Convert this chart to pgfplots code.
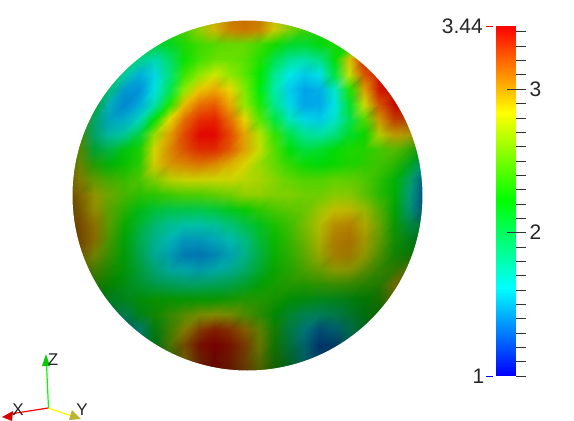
\documentclass[border=0pt]{standalone}
\usepackage{fontspec}
\setmainfont{Liberation Sans}
\usepackage{pgfplots}
\usepackage{pgfplotstable}
\pgfplotsset{compat=1.18}
% scalar on the visible disc, read row by row: 25 rows (y=15,30,...,375 px),
% 25 values each (x=65,80,...,425 px)
\pgfplotstableread[row sep=\\]{
v\\
2.35\\2.35\\2.35\\2.35\\2.35\\2.35\\2.35\\2.35\\2.45\\2.65\\2.9\\3.05\\3.1\\3.05\\2.85\\2.6\\2.4\\2.35\\2.35\\2.4\\2.4\\2.4\\2.4\\2.4\\2.4\\
2.35\\2.35\\2.35\\2.35\\2.35\\2.35\\2.35\\2.35\\2.45\\2.65\\2.9\\3.05\\3.1\\3.05\\2.85\\2.6\\2.4\\2.35\\2.35\\2.4\\2.4\\2.4\\2.4\\2.4\\2.4\\
2.25\\2.25\\2.25\\2.25\\2.25\\2.34\\2.06\\2.13\\2.3\\2.4\\2.45\\2.5\\2.5\\2.4\\2.27\\2.1\\2.08\\2.19\\2.3\\2.3\\2.3\\2.3\\2.3\\2.3\\2.3\\
2.23\\2.23\\2.23\\2.23\\2.23\\1.81\\1.73\\1.94\\2.25\\2.4\\2.5\\2.5\\2.45\\2.3\\2.0\\1.82\\1.76\\1.85\\2.2\\2.9\\3.35\\3.4\\3.4\\3.4\\3.4\\
2.3\\2.3\\2.3\\2.29\\1.73\\1.5\\1.59\\1.89\\2.38\\2.6\\2.75\\2.6\\2.45\\2.22\\1.84\\1.61\\1.53\\1.6\\2.05\\2.75\\3.2\\3.4\\3.4\\3.4\\3.4\\
2.6\\2.6\\2.6\\1.82\\1.45\\1.41\\1.61\\1.99\\2.6\\2.92\\3.0\\2.88\\2.55\\2.19\\1.78\\1.53\\1.42\\1.46\\1.7\\2.3\\3.0\\3.38\\3.42\\3.4\\3.4\\
2.6\\2.6\\2.07\\1.56\\1.4\\1.48\\1.75\\2.3\\2.95\\3.15\\3.2\\3.0\\2.6\\2.29\\1.85\\1.57\\1.43\\1.44\\1.6\\2.1\\2.78\\3.2\\3.42\\3.4\\3.4\\
2.7\\2.7\\1.84\\1.53\\1.52\\1.69\\2.2\\2.85\\3.15\\3.32\\3.35\\3.15\\2.88\\2.45\\2.05\\1.73\\1.57\\1.54\\1.68\\2.0\\2.45\\3.0\\3.25\\3.2\\3.2\\
2.5\\2.5\\1.83\\1.69\\1.77\\2.04\\2.65\\3.0\\3.25\\3.42\\3.42\\3.25\\3.0\\2.7\\2.35\\2.02\\1.83\\1.78\\1.88\\2.1\\2.25\\2.75\\2.95\\2.9\\2.9\\
2.6\\2.6\\2.03\\1.99\\2.17\\2.3\\2.82\\3.05\\3.22\\3.32\\3.32\\3.2\\3.0\\2.75\\2.45\\2.2\\2.05\\2.1\\2.2\\2.3\\2.32\\2.42\\2.5\\2.4\\2.1\\
2.7\\2.7\\2.35\\2.2\\2.25\\2.35\\2.85\\3.0\\3.05\\3.1\\3.05\\2.95\\2.85\\2.65\\2.5\\2.35\\2.25\\2.2\\2.25\\2.3\\2.35\\2.4\\2.35\\2.1\\1.7\\
2.85\\2.85\\2.6\\2.45\\2.4\\2.45\\2.6\\2.75\\2.8\\2.8\\2.8\\2.8\\2.75\\2.7\\2.6\\2.5\\2.45\\2.45\\2.5\\2.5\\2.45\\2.35\\2.2\\1.85\\1.4\\
2.95\\2.95\\2.8\\2.6\\2.45\\2.35\\2.35\\2.4\\2.45\\2.45\\2.5\\2.55\\2.65\\2.65\\2.6\\2.6\\2.55\\2.55\\2.62\\2.62\\2.5\\2.35\\2.2\\1.75\\1.35\\
3.0\\3.0\\2.85\\2.55\\2.35\\2.15\\2.05\\2.0\\2.0\\2.0\\2.05\\2.15\\2.25\\2.35\\2.45\\2.5\\2.55\\2.7\\2.85\\2.85\\2.72\\2.5\\2.2\\1.75\\1.4\\
3.05\\3.05\\2.95\\2.55\\2.25\\2.05\\1.85\\1.75\\1.7\\1.7\\1.75\\1.85\\2.0\\2.15\\2.3\\2.42\\2.6\\2.8\\2.97\\3.0\\2.85\\2.6\\2.25\\1.95\\1.9\\
3.05\\3.05\\2.95\\2.5\\2.2\\1.95\\1.75\\1.6\\1.5\\1.5\\1.55\\1.65\\1.8\\2.05\\2.25\\2.4\\2.58\\2.8\\3.0\\3.03\\2.87\\2.6\\2.3\\2.1\\2.1\\
2.95\\2.95\\2.75\\2.45\\2.2\\1.95\\1.7\\1.55\\1.42\\1.4\\1.45\\1.55\\1.75\\2.0\\2.25\\2.38\\2.55\\2.77\\2.97\\2.98\\2.8\\2.55\\2.3\\2.3\\2.5\\
2.7\\2.7\\2.55\\2.35\\2.2\\2.0\\1.8\\1.65\\1.6\\1.55\\1.6\\1.7\\1.85\\2.05\\2.25\\2.35\\2.5\\2.62\\2.78\\2.78\\2.62\\2.45\\2.45\\2.75\\2.9\\
2.4\\2.4\\2.4\\2.25\\2.15\\2.05\\1.95\\1.9\\1.85\\1.85\\1.9\\1.95\\2.05\\2.2\\2.3\\2.35\\2.35\\2.4\\2.45\\2.45\\2.4\\2.4\\2.85\\3.1\\3.1\\
2.1\\2.1\\2.1\\2.05\\2.1\\2.2\\2.25\\2.25\\2.25\\2.25\\2.25\\2.3\\2.35\\2.35\\2.3\\2.2\\2.15\\2.1\\2.1\\2.15\\2.2\\2.35\\2.8\\2.8\\2.8\\
1.85\\1.85\\1.85\\1.85\\1.85\\2.1\\2.3\\2.45\\2.6\\2.72\\2.78\\2.72\\2.55\\2.4\\2.2\\2.0\\1.85\\1.8\\1.85\\2.0\\2.15\\2.3\\2.3\\2.3\\2.3\\
1.6\\1.6\\1.6\\1.6\\1.5\\1.7\\2.15\\2.5\\2.85\\3.15\\3.3\\3.2\\3.0\\2.65\\2.3\\1.9\\1.6\\1.4\\1.5\\1.8\\2.05\\2.1\\2.1\\2.1\\2.1\\
1.5\\1.5\\1.5\\1.5\\1.5\\1.65\\2.1\\2.6\\3.05\\3.35\\3.44\\3.35\\3.15\\2.75\\2.3\\1.9\\1.55\\1.3\\1.35\\1.7\\1.9\\1.9\\1.9\\1.9\\1.9\\
1.6\\1.6\\1.6\\1.6\\1.6\\1.6\\2.05\\2.45\\2.9\\3.25\\3.4\\3.3\\3.1\\2.7\\2.35\\2.0\\1.6\\1.4\\1.5\\1.8\\1.8\\1.8\\1.8\\1.8\\1.8\\
1.6\\1.6\\1.6\\1.6\\1.6\\1.6\\2.05\\2.45\\2.9\\3.25\\3.4\\3.3\\3.1\\2.7\\2.35\\2.0\\1.6\\1.4\\1.5\\1.8\\1.8\\1.8\\1.8\\1.8\\1.8\\
}\sphere
% colour bar: rainbow nodes at the corners of the hue range
\pgfplotstableread[row sep=\\]{
x y v\\
0 1 1\\ 1 1 1\\
0 1.61 1.61\\ 1 1.61 1.61\\
0 2.22 2.22\\ 1 2.22 2.22\\
0 2.83 2.83\\ 1 2.83 2.83\\
0 3.44 3.44\\ 1 3.44 3.44\\
}\barcolors
% brightness of the lit sphere at table row #1
\pgfmathdeclarefunction{shade}{1}{%
  \begingroup
  \pgfmathsetmacro\nx{(65+15*mod(#1,25)-255)/175}%
  \pgfmathsetmacro\py{15+15*floor(#1/25)}%
  \pgfmathsetmacro\dy{(\py-97)/100}%
  \pgfmathsetmacro\by{\dy<0 ? .92-.24*\dy*\dy : .92-.064*\dy-.049*\dy*\dy}%
  \pgfmathsetmacro\low{min(max((\py-195)/175,0),.6)}%
  \pgfmathparse{(1-.4*\nx*\nx*\nx*\nx)*\by*(1-.45*max(\nx,0)*\low)}%
  \pgfmathsmuggle\pgfmathresult
  \endgroup}
\pgfplotsset{
  rainbow mesh/.style={
    surf,shader=interp,
    mesh/color input=explicit mathparse,
    point meta={symbolic={Hsb=240*(3.44-\thisrow{v})/2.44,1,#1}},
  },
}
\begin{document}
\begin{tikzpicture}[x=1pt,y=1pt]
\useasboundingbox (0,0) rectangle (574,421);
\begin{axis}[
  at={(0,0)},anchor=south west,
  width=574pt,height=421pt,scale only axis,
  xmin=0,xmax=574,ymin=0,ymax=421,
  y dir=reverse,view={0}{90},
  hide axis,clip=false,
]
\addplot3[rainbow mesh={shade(\coordindex)},mesh/cols=25]
  table[x index=0,y index=0,z index=0,x expr={65+15*mod(\coordindex,25)},y expr={15+15*floor(\coordindex/25)}] {\sphere};
% white everywhere round the disc
\fill[white,even odd rule] (axis cs:50,0,0) rectangle (axis cs:450,400,0)
  (axis cs:247.5,195.5,0) circle [radius=175];
% orientation triad
\addplot3[red,line width=1.2pt] coordinates {(48,408,1) (10,414,1)};
\addplot3[fill=red!85!black,draw=none] coordinates {(2,417,1) (13,411,1) (12,421,1)} -- cycle;
\addplot3[yellow,line width=1.2pt] coordinates {(48,408,1) (72,416,1)};
\addplot3[fill=yellow!70!black,draw=none] coordinates {(81,419,1) (72,410,1) (69,420,1)} -- cycle;
\addplot3[green,line width=1.2pt] coordinates {(48.5,408,1) (46.5,364,1)};
\addplot3[fill=green!80!black,draw=none] coordinates {(46,354,1) (42,366,1) (50,366,1)} -- cycle;
\node[font=\fontsize{17}{17}\selectfont,text=black!85] at (axis cs:18,410,1) {X};
\node[font=\fontsize{17}{17}\selectfont,text=black!85] at (axis cs:82,410,1) {Y};
\node[font=\fontsize{17}{17}\selectfont,text=black!85] at (axis cs:53,360,1) {Z};
\end{axis}
% colour bar
\begin{axis}[
  at={(496pt,45pt)},anchor=south west,
  width=20pt,height=350pt,scale only axis,
  xmin=0,xmax=1,ymin=1,ymax=3.44,
  view={0}{90},clip=false,
  axis line style={draw=none},
  xtick=\empty,
  ytick={1,2,3},yticklabels={{},2,3},
  minor ytick={1.1,1.2,1.3,1.4,1.5,1.6,1.7,1.8,1.9,2.1,2.2,2.3,2.4,2.5,2.6,2.7,2.8,2.9,3.1,3.2,3.3,3.4},
  ytick pos=right,yticklabel pos=right,
  major tick length=10pt,minor tick length=10pt,
  tick style={black!80,line width=.6pt},
  tick align=outside,
  y tick label style={font=\fontsize{21}{21}\selectfont,text=black!85},
]
\addplot3[rainbow mesh=1,mesh/cols=2] table[x=x,y=y,z=v] {\barcolors};
\addplot3[black!80,line width=.6pt] coordinates {(.55,2,4) (1,2,4)};
\addplot3[black!80,line width=.6pt] coordinates {(.55,3,4) (1,3,4)};
\addplot3[red,line width=.8pt] coordinates {(-.5,3.44,4) (-.15,3.44,4)};
\addplot3[blue,line width=.8pt] coordinates {(-.5,1,4) (-.15,1,4)};
\node[anchor=east,inner sep=0pt,font=\fontsize{21}{21}\selectfont,text=black!85] at (axis cs:-.65,3.44,4) {3.44};
\node[anchor=east,inner sep=0pt,font=\fontsize{21}{21}\selectfont,text=black!85] at (axis cs:-.575,1,4) {1};
\end{axis}
\end{tikzpicture}
\end{document}
